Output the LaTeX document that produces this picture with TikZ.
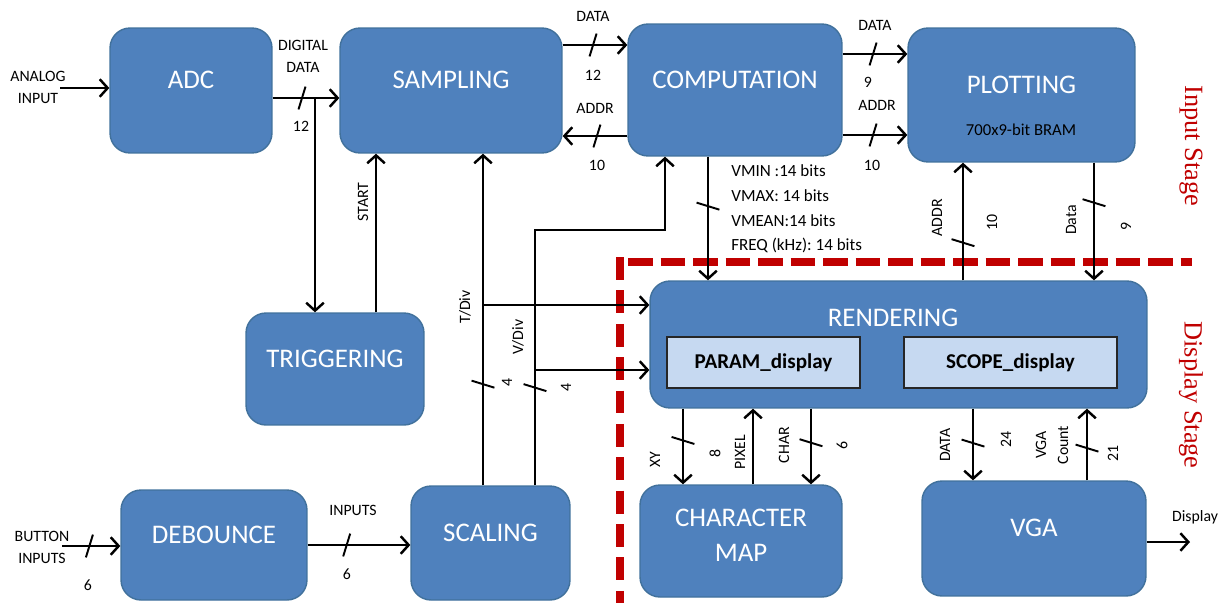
\documentclass[tikz,border=0pt]{standalone}
\usepackage{fontspec}
\setmainfont{Carlito}
\newfontfamily\stagefont{Liberation Serif}
\usetikzlibrary{arrows.meta,decorations.markings}

\definecolor{blkfill}{HTML}{4F81BD}
\definecolor{blkline}{HTML}{41719C}
\definecolor{subfill}{HTML}{C6D9F1}
\definecolor{stagered}{HTML}{C00000}

\tikzset{
  blk/.style={draw=blkline, line width=0.8pt, fill=blkfill, rounded corners=0.4cm,
    text=white, font=\fontsize{15.3}{17}\selectfont, align=center, text depth=12pt},
  subblk/.style={draw=black!85, line width=0.8pt, fill=subfill,
    font=\bfseries\fontsize{12}{14}\selectfont, minimum height=1.02cm},
  sig/.style={line width=1.4pt, -{Straight Barb[length=4.5pt,width=10pt]}},
  bus/.style={postaction={decorate,decoration={markings,
      mark=at position #1 with {\draw[line width=1.1pt,-] (-2pt,-6.5pt) -- (2pt,6.5pt);}}}},
  lbl/.style={font=\fontsize{9}{12.5}\selectfont, align=center, inner sep=0pt},
  vlbl/.style={lbl, rotate=90},
  stage/.style={text=stagered, font=\stagefont\fontsize{15}{17}\selectfont, rotate=-90},
}

\begin{document}
\begin{tikzpicture}[x=0.02cm,y=-0.02cm]
  \useasboundingbox (0,0) rectangle (1225,603);

  % border between the two stages
  \draw[stagered, line width=4.5pt, dash pattern=on 13pt off 6pt] (620,257) -- (620,603);
  \draw[stagered, line width=4.5pt, dash pattern=on 14pt off 4.5pt] (628,262) -- (1192,262);

  % blocks
  \node[blk, minimum width=3.24cm, minimum height=2.5cm]  (adc)  at (191,90.5)  {ADC};
  \node[blk, minimum width=4.44cm, minimum height=2.5cm]  (samp) at (451,90.5)  {SAMPLING};
  \node[blk, minimum width=4.28cm, minimum height=2.64cm] (comp) at (735,90)    {COMPUTATION};
  \node[blk, minimum width=4.54cm, minimum height=2.68cm] (plot) at (1021.5,95) {PLOTTING};
  \node[blk, minimum width=3.56cm, minimum height=2.24cm] (trig) at (335,369)   {TRIGGERING};
  \node[blk, minimum width=9.94cm, minimum height=2.54cm] (rend) at (898.5,344.5) {};
  \node[blk, minimum width=3.72cm, minimum height=2.2cm]  (deb)  at (214,545)   {DEBOUNCE};
  \node[blk, minimum width=3.18cm, minimum height=2.28cm] (scal) at (490.5,543) {SCALING};
  \node[blk, minimum width=4.04cm, minimum height=2.24cm, text depth=7pt,
        font=\fontsize{15.3}{20}\selectfont]             (cmap) at (741,541)   {CHARACTER\\MAP};
  \node[blk, minimum width=4.48cm, minimum height=2.3cm]  (vga)  at (1034,538.5) {VGA};

  \node[lbl, font=\fontsize{9.5}{11}\selectfont] (bram) at (1021,130) {700x9-bit BRAM};
  \node[text=white, font=\fontsize{15.3}{17}\selectfont] (rendtitle) at (893,318) {RENDERING};
  \node[subblk, minimum width=3.86cm] (pdisp) at (763.5,362.5)  {PARAM\_display};
  \node[subblk, minimum width=4.26cm] (sdisp) at (1010.5,362.5) {SCOPE\_display};

  % input stage signals
  \coordinate (ain) at (60,88);
  \coordinate (tap) at (315,98);
  \draw[sig] (ain) -- (adc.west |- ain);
  \draw[sig,bus=0.44] (adc.east |- tap) -- (samp.west |- tap);
  \draw[sig] (tap) -- (trig.north -| tap);
  \draw[sig] (trig.north -| 376,0) -- (samp.south -| 376,0);
  \draw[sig,bus=0.47] (samp.east |- 0,45) -- (comp.west |- 0,45);
  \draw[sig,bus=0.47] (comp.west |- 0,136) -- (samp.east |- 0,136);
  \draw[sig,bus=0.47] (comp.east |- 0,54) -- (plot.west |- 0,54);
  \draw[sig,bus=0.47] (comp.east |- 0,135) -- (plot.west |- 0,135);
  \draw[sig,bus=0.4] (comp.south -| 708,0) -- (rend.north -| 708,0);
  \draw[sig,bus=0.32] (rend.north -| 963,0) -- (plot.south -| 963,0);
  \draw[sig,bus=0.34] (plot.south -| 1094,0) -- (rend.north -| 1094,0);

  % scaling outputs
  \coordinate (tdiv)  at (483,305);
  \coordinate (vdiv)  at (535,370);
  \coordinate (vbend) at (665,230);
  \draw[sig,bus=0.305] (scal.north -| tdiv) -- (samp.south -| tdiv);
  \draw[sig] (tdiv) -- (rend.west |- tdiv);
  \draw[sig,bus=0.213] (scal.north -| vdiv) |- (vbend) -- (comp.south -| vbend);
  \draw[sig] (vdiv) -- (rend.west |- vdiv);

  % display stage signals
  \draw[sig,bus=0.42] (rend.south -| 683,0) -- (cmap.north -| 683,0);
  \draw[sig] (cmap.north -| 753,0) -- (rend.south -| 753,0);
  \draw[sig,bus=0.45] (rend.south -| 811,0) -- (cmap.north -| 811,0);
  \draw[sig,bus=0.48] (rend.south -| 973,0) -- (vga.north -| 973,0);
  \draw[sig,bus=0.45] (vga.north -| 1087,0) -- (rend.south -| 1087,0);
  \coordinate (dout) at (1190,542);
  \draw[sig] (vga.east |- dout) -- (dout);
  \coordinate (bin) at (62,546);
  \draw[sig,bus=0.47] (bin) -- (deb.west |- bin);
  \draw[sig,bus=0.38] (deb.east |- 0,545) -- (scal.west |- 0,545);

  % labels
  \node[lbl] at (38,87)   {ANALOG\\INPUT};
  \node[lbl] at (303,56)  {DIGITAL\\DATA};
  \node[lbl] at (301,126) {12};
  \node[vlbl] at (363,202) {START};
  \node[lbl] at (593,16)  {DATA};
  \node[lbl] at (593,75)  {12};
  \node[lbl] at (595,108) {ADDR};
  \node[lbl] at (597,165) {10};
  \node[lbl] at (875,25)  {DATA};
  \node[lbl] at (868,82)  {9};
  \node[lbl] at (877,105) {ADDR};
  \node[lbl] at (872,165) {10};
  \node[lbl, align=left, anchor=west, font=\fontsize{9.7}{14}\selectfont] at (731,209)
    {VMIN :14 bits\\VMAX: 14 bits\\VMEAN:14 bits\\FREQ (kHz):\ 14 bits};
  \node[vlbl] at (937,218)  {ADDR};
  \node[vlbl] at (992,222)  {10};
  \node[vlbl] at (1071,220) {Data};
  \node[vlbl] at (1126,226) {9};
  \node[vlbl] at (465,307) {T/Div};
  \node[vlbl] at (518,337) {V/Div};
  \node[vlbl] at (507,382) {4};
  \node[vlbl] at (566,387) {4};
  \node[vlbl] at (655,460) {XY};
  \node[vlbl] at (715,453) {8};
  \node[vlbl] at (740,452) {PIXEL};
  \node[vlbl] at (784,445) {CHAR};
  \node[vlbl] at (842,445) {6};
  \node[vlbl] at (945,445) {DATA};
  \node[vlbl] at (1006,439) {24};
  \node[vlbl] at (1052,445) {VGA\\Count};
  \node[vlbl] at (1113,453) {21};
  \node[lbl] at (1195,517) {Display};
  \node[lbl] at (42,547)  {BUTTON\\INPUTS};
  \node[lbl] at (88,585)  {6};
  \node[lbl] at (353,510) {INPUTS};
  \node[lbl] at (347,574) {6};

  \node[stage] at (1191,146) {Input Stage};
  \node[stage] at (1191,395) {Display Stage};
\end{tikzpicture}
\end{document}
